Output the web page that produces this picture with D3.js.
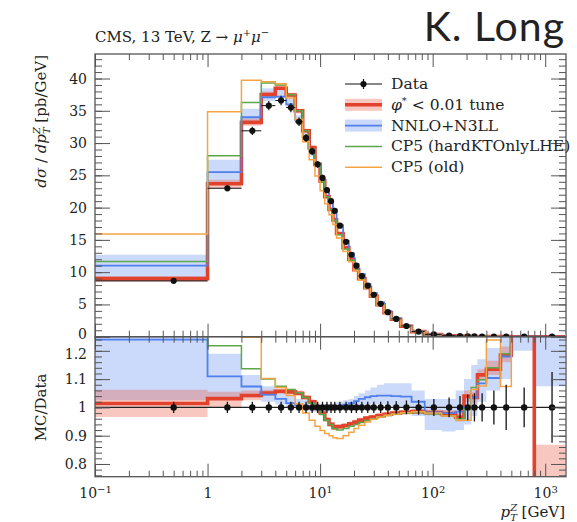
<!DOCTYPE html>
<html lang="en">
<head>
<meta charset="UTF-8">
<script src="https://d3js.org/d3.v7.min.js"></script>
<title>Z pT</title>
<style>
    body { margin: 0; background: #fff; }
    text { font-family: "DejaVu Serif", serif; fill: #222; }
</style>
</head>
<body>
<div id="chart"></div>
<script>
// pT bin edges [GeV]
var binEdges = [0, 1, 2, 3, 4, 5, 6, 7, 8, 9, 10, 11, 12, 13, 14, 16, 18, 20, 22, 25, 28, 32, 37, 43, 52, 65, 85,
    120, 160, 190, 220, 250, 300, 400, 500, 800, 1500];

// main panel, dsigma/dpT [pb/GeV]
var dataVals = [8.65, 23.0, 31.9, 35.8, 36.6, 35.5, 33.3, 30.8, 28.7, 26.7, 24.6, 22.7, 21.0, 19.5, 17.2, 14.7, 12.7, 11.0,
    9.4, 7.9, 6.5, 5.1, 3.8, 2.75, 1.66, 0.8, 0.35, 0.16, 0.09, 0.055, 0.036, 0.022, 0.011, 0.005, 0.0015, 0.0002];
var dataRelErr = [0.02, 0.02, 0.02, 0.02, 0.02, 0.02, 0.02, 0.02, 0.02, 0.02, 0.02, 0.02, 0.02, 0.02, 0.02, 0.02, 0.02, 0.02,
    0.02, 0.02, 0.02, 0.02, 0.022, 0.022, 0.024, 0.026, 0.03, 0.035, 0.04, 0.045, 0.05, 0.05, 0.06, 0.08, 0.07, 0.125];

var redMain = [9.0, 23.7, 33.2, 37.5, 38.5, 37.45, 35.0, 31.9, 29.3, 26.7, 24.1, 21.7, 19.7, 18.1, 16.0, 13.8, 12.0, 10.4,
    9.0, 7.6, 6.28, 4.95, 3.71, 2.7, 1.63, 0.79, 0.344, 0.156, 0.087, 0.057, 0.037, 0.0245, 0.0125, 0.0059, 0.0021, 0];
var redBandLo = [8.5, 23.0, 32.7, 37.2, 38.2, 37.1, 34.6, 31.6, 29.0, 26.45, 23.9, 21.5, 19.5, 17.9, 15.85, 13.65, 11.9, 10.3,
    8.9, 7.52, 6.22, 4.9, 3.67, 2.67, 1.61, 0.78, 0.34, 0.154, 0.086, 0.056, 0.036, 0.024, 0.012, 0.0057, 0.002, 0];
var redBandHi = [9.35, 24.3, 33.8, 38.0, 39.0, 37.8, 35.3, 32.2, 29.6, 26.95, 24.3, 21.9, 19.9, 18.3, 16.15, 13.95, 12.1, 10.5,
    9.1, 7.68, 6.34, 5.0, 3.75, 2.73, 1.65, 0.8, 0.348, 0.158, 0.088, 0.058, 0.038, 0.025, 0.013, 0.0061, 0.0022, 0.00017];

var blueMain = [11.0, 25.5, 34.0, 37.1, 37.2, 36.0, 33.6, 30.9, 28.7, 26.65, 24.5, 22.65, 21.0, 19.55, 17.3, 14.85, 12.9, 11.25,
    9.68, 8.18, 6.76, 5.31, 3.96, 2.86, 1.72, 0.816, 0.344, 0.157, 0.089, 0.055, 0.037, 0.0239, 0.0121, 0.0059, 0.0021, 0.0003];
var blueBandLo = [8.9, 23.8, 33.0, 36.5, 37.0, 35.5, 33.1, 30.5, 28.3, 26.3, 24.2, 22.35, 20.8, 19.3, 17.0, 14.6, 12.7, 11.0,
    9.45, 7.98, 6.57, 5.15, 3.84, 2.76, 1.66, 0.776, 0.326, 0.146, 0.083, 0.052, 0.035, 0.0224, 0.0117, 0.0055, 0.0018, 0.0002];
var blueBandHi = [12.7, 27.4, 35.3, 38.5, 38.4, 36.9, 34.3, 31.6, 29.3, 27.1, 24.85, 22.9, 21.2, 19.8, 17.55, 15.07, 13.08, 11.44,
    9.87, 8.37, 6.96, 5.5, 4.12, 2.98, 1.8, 0.848, 0.36, 0.165, 0.095, 0.06, 0.041, 0.0257, 0.0133, 0.0065, 0.0021, 0.0003];

var greenMain = [11.65, 28.05, 36.3, 39.3, 39.0, 37.5, 35.0, 31.9, 29.1, 26.7, 24.0, 21.7, 19.7, 18.0, 15.8, 13.6, 11.85, 10.35,
    8.9, 7.54, 6.24, 4.93, 3.69, 2.68, 1.625, 0.786, 0.342, 0.155, 0.0864, 0.0547, 0.0385, 0.0242, 0.0125, 0.006, 0.0021, 0.0003];
var orangeMain = [15.9, 34.85, 39.75, 39.5, 39.2, 37.0, 33.7, 30.2, 27.4, 24.9, 22.6, 20.6, 18.9, 17.4, 15.3, 13.2, 11.6, 10.2,
    8.8, 7.49, 6.23, 4.93, 3.69, 2.69, 1.63, 0.79, 0.343, 0.155, 0.086, 0.0525, 0.038, 0.0237, 0.0136, 0.0054, 0.0021, 0.0003];

// ratio panel, MC/Data
var redRatio = [1.014, 1.031, 1.042, 1.051, 1.057, 1.055, 1.05, 1.035, 1.02, 1.0, 0.98, 0.957, 0.94, 0.928, 0.932, 0.936, 0.942, 0.948,
    0.955, 0.962, 0.966, 0.971, 0.976, 0.98, 0.983, 0.985, 0.982, 0.978, 0.965, 1.04, 1.035, 1.115, 1.135, 1.185, 1.40, 0.0];
var redRatioLo = [0.966, 1.0, 1.025, 1.04, 1.047, 1.045, 1.04, 1.027, 1.012, 0.992, 0.972, 0.949, 0.932, 0.92, 0.924, 0.928, 0.934, 0.94,
    0.947, 0.954, 0.958, 0.963, 0.968, 0.972, 0.975, 0.977, 0.972, 0.966, 0.95, 1.02, 1.015, 1.095, 1.115, 1.16, 1.30, 0.50];
var redRatioHi = [1.062, 1.055, 1.06, 1.062, 1.067, 1.065, 1.06, 1.043, 1.028, 1.008, 0.988, 0.965, 0.948, 0.936, 0.94, 0.944, 0.95, 0.956,
    0.963, 0.97, 0.974, 0.979, 0.984, 0.988, 0.991, 0.993, 0.992, 0.99, 0.98, 1.06, 1.055, 1.135, 1.165, 1.215, 1.50, 0.868];

var blueRatio = [1.24, 1.11, 1.074, 1.045, 1.03, 1.015, 1.008, 1.003, 1.0, 0.998, 0.997, 0.998, 1.0, 1.002, 1.005, 1.01, 1.015, 1.022,
    1.03, 1.036, 1.04, 1.042, 1.042, 1.04, 1.038, 1.02, 0.982, 0.98, 0.985, 1.0, 1.035, 1.085, 1.104, 1.18, 1.40, 1.40];
var blueRatioLo = [1.025, 1.035, 1.035, 1.02, 1.01, 1.0, 0.995, 0.99, 0.985, 0.985, 0.985, 0.985, 0.99, 0.99, 0.99, 0.995, 1.0, 1.0,
    1.005, 1.01, 1.01, 1.01, 1.01, 1.005, 1.0, 0.97, 0.92, 0.915, 0.92, 0.94, 0.97, 1.02, 1.06, 1.10, 1.20, 1.075];
var blueRatioHi = [1.47, 1.19, 1.115, 1.075, 1.05, 1.04, 1.03, 1.025, 1.02, 1.015, 1.01, 1.01, 1.01, 1.015, 1.02, 1.025, 1.03, 1.04,
    1.05, 1.06, 1.07, 1.08, 1.085, 1.085, 1.085, 1.06, 1.03, 1.03, 1.06, 1.10, 1.15, 1.17, 1.21, 1.30, 1.40, 1.40];

var greenRatio = [1.40, 1.218, 1.137, 1.10, 1.075, 1.063, 1.052, 1.035, 1.015, 1.0, 0.975, 0.955, 0.94, 0.925, 0.92, 0.925, 0.933, 0.94,
    0.947, 0.954, 0.96, 0.966, 0.971, 0.976, 0.979, 0.982, 0.978, 0.97, 0.96, 0.995, 1.07, 1.098, 1.14, 1.19, 1.40, 1.40];
var orangeRatio = [1.60, 1.50, 1.248, 1.102, 1.07, 1.042, 1.012, 0.98, 0.955, 0.933, 0.918, 0.908, 0.9, 0.893, 0.89, 0.9, 0.912, 0.925,
    0.937, 0.948, 0.958, 0.966, 0.972, 0.977, 0.981, 0.985, 0.98, 0.97, 0.955, 0.955, 1.063, 1.076, 1.238, 1.074, 1.40, 1.40];

// axis ticks
var mainTicks = [0, 5, 10, 15, 20, 25, 30, 35, 40];
var ratioTicks = [0.8, 0.9, 1, 1.1, 1.2];
var xMajor = [0.1, 1, 10, 100, 1000];

var legendLabels = ["Data", "< 0.01 tune", "NNLO+N3LL", "CP5 (hardKTOnlyLHE)", "CP5 (old)"];

var RED = "#e2412c", BLUE = "#4f80ee", GREEN = "#5ca74b", ORANGE = "#f6a443", FRAME = "#555";

var svg = d3.select("#chart").append("svg")
    .attr("width", 577)
    .attr("height", 522);

var x = d3.scaleLog().domain([0.1, 1530]).range([95, 566]);
var yMain = d3.scaleLinear().domain([0, 43.8]).range([336.7, 54]);
var yRatio = d3.scaleLinear().domain([0.755, 1.25]).range([476.7, 336.7]);
var xMin = x.domain()[0];

var xMinor = [];
xMajor.forEach(function(dec){
    for (var k = 2; k <= 9; k++) {
        if (dec * k < x.domain()[1]) xMinor.push(dec * k);
    }
});

var defs = svg.append("defs");
defs.append("clipPath").attr("id", "clipMain").append("rect")
    .attr("x", x.range()[0]).attr("y", yMain.range()[1])
    .attr("width", x.range()[1] - x.range()[0]).attr("height", yMain.range()[0] - yMain.range()[1]);
defs.append("clipPath").attr("id", "clipRatio").append("rect")
    .attr("x", x.range()[0]).attr("y", yRatio.range()[1])
    .attr("width", x.range()[1] - x.range()[0]).attr("height", yRatio.range()[0] - yRatio.range()[1]);

function stepPts(vals){
    var pts = vals.map(function(v, i){ return {x: Math.max(binEdges[i], xMin), v: v}; });
    pts.push({x: binEdges[binEdges.length - 1], v: vals[vals.length - 1]});
    return pts;
}
function bandPts(lo, hi){
    var pts = lo.map(function(v, i){ return {x: Math.max(binEdges[i], xMin), lo: v, hi: hi[i]}; });
    pts.push({x: binEdges[binEdges.length - 1], lo: lo[lo.length - 1], hi: hi[hi.length - 1]});
    return pts;
}
function drawBand(g, y, lo, hi, fill){
    var area = d3.area().curve(d3.curveStepAfter)
        .x(function(d){ return x(d.x); })
        .y0(function(d){ return y(d.lo); })
        .y1(function(d){ return y(d.hi); });
    g.append("path").attr("d", area(bandPts(lo, hi))).attr("fill", fill).attr("stroke", "none");
}
function drawStep(g, y, vals, color, width){
    var line = d3.line().curve(d3.curveStepAfter)
        .x(function(d){ return x(d.x); })
        .y(function(d){ return y(d.v); });
    g.append("path").attr("d", line(stepPts(vals))).attr("fill", "none")
        .attr("stroke", color).attr("stroke-width", width).attr("stroke-linejoin", "miter");
}
function center(i){ return (binEdges[i] + binEdges[i + 1]) / 2; }

// ---- main panel
var gMain = svg.append("g").attr("clip-path", "url(#clipMain)");
drawBand(gMain, yMain, blueBandLo, blueBandHi, "rgba(110,150,240,0.36)");
drawBand(gMain, yMain, redBandLo, redBandHi, "rgba(232,95,75,0.35)");
drawStep(gMain, yMain, redMain, RED, 3.6);
drawStep(gMain, yMain, blueMain, BLUE, 1.8);
drawStep(gMain, yMain, greenMain, GREEN, 1.5);
drawStep(gMain, yMain, orangeMain, ORANGE, 1.5);

var dataG = gMain.selectAll(".pt").data(dataVals).enter().append("g").attr("class", "pt");
dataG.append("line")
    .attr("x1", function(d, i){ return x(Math.max(binEdges[i], xMin)); })
    .attr("x2", function(d, i){ return x(binEdges[i + 1]); })
    .attr("y1", function(d){ return yMain(d); })
    .attr("y2", function(d){ return yMain(d); })
    .attr("stroke", "#111").attr("stroke-width", 1);
dataG.append("line")
    .attr("x1", function(d, i){ return x(center(i)); })
    .attr("x2", function(d, i){ return x(center(i)); })
    .attr("y1", function(d, i){ return yMain(d * (1 + dataRelErr[i])); })
    .attr("y2", function(d, i){ return yMain(d * (1 - dataRelErr[i])); })
    .attr("stroke", "#111").attr("stroke-width", 1.2);
dataG.append("circle")
    .attr("cx", function(d, i){ return x(center(i)); })
    .attr("cy", function(d){ return yMain(d); })
    .attr("r", 3.1).attr("fill", "#111");

// ---- ratio panel
var gRatio = svg.append("g").attr("clip-path", "url(#clipRatio)");
drawBand(gRatio, yRatio, blueRatioLo, blueRatioHi, "rgba(110,150,240,0.36)");
drawBand(gRatio, yRatio, redRatioLo, redRatioHi, "rgba(232,95,75,0.35)");
gRatio.append("line")
    .attr("x1", x.range()[0]).attr("x2", x.range()[1])
    .attr("y1", yRatio(1)).attr("y2", yRatio(1))
    .attr("stroke", "#222").attr("stroke-width", 1.2);
drawStep(gRatio, yRatio, redRatio, RED, 3.6);
drawStep(gRatio, yRatio, blueRatio, BLUE, 1.8);
drawStep(gRatio, yRatio, greenRatio, GREEN, 1.5);
drawStep(gRatio, yRatio, orangeRatio, ORANGE, 1.5);

var rPts = gRatio.selectAll(".rpt").data(dataRelErr).enter().append("g").attr("class", "rpt");
rPts.append("line")
    .attr("x1", function(d, i){ return x(center(i)); })
    .attr("x2", function(d, i){ return x(center(i)); })
    .attr("y1", function(d){ return yRatio(1 + d); })
    .attr("y2", function(d){ return yRatio(1 - d); })
    .attr("stroke", "#111").attr("stroke-width", 1.3);
rPts.append("circle")
    .attr("cx", function(d, i){ return x(center(i)); })
    .attr("cy", yRatio(1))
    .attr("r", 3.2).attr("fill", "#111");

// ---- axes and frames
function styleAxis(g){
    g.select(".domain").remove();
    g.selectAll(".tick line").attr("stroke", FRAME).attr("stroke-width", 1);
    g.selectAll(".tick text").style("font-size", "14px").style("font-family", "DejaVu Serif, serif").attr("fill", "#333");
}
function xTicks(yPos, dir, labels){
    var axisF = dir === "top" ? d3.axisTop : d3.axisBottom;
    svg.append("g").attr("transform", "translate(0," + yPos + ")")
        .call(axisF(x).tickValues(xMinor).tickSize(-6).tickFormat(""))
        .call(styleAxis);
    var g = svg.append("g").attr("transform", "translate(0," + yPos + ")")
        .call(axisF(x).tickValues(xMajor).tickSize(-13).tickPadding(11).tickFormat(labels ? function(){ return ""; } : ""))
        .call(styleAxis);
    if (labels) {
        g.selectAll(".tick text").each(function(d){
            var t = d3.select(this);
            var e = Math.round(Math.log10(d));
            if (e === 0) { t.text("1"); return; }
            t.append("tspan").text("10");
            t.append("tspan").attr("dy", "-0.45em").style("font-size", "10px")
                .text(e < 0 ? "\u2212" + (-e) : String(e));
        });
    }
}
xTicks(54, "top", false);
xTicks(336.7, "bottom", false);
xTicks(336.7, "top", false);
xTicks(476.7, "bottom", true);

function yTicks(scale, major, minor, fmt){
    svg.append("g").attr("transform", "translate(" + x.range()[0] + ",0)")
        .call(d3.axisLeft(scale).tickValues(minor).tickSize(-7).tickFormat(""))
        .call(styleAxis);
    var g = svg.append("g").attr("transform", "translate(" + x.range()[0] + ",0)")
        .call(d3.axisLeft(scale).tickValues(major).tickSize(-15).tickPadding(8).tickFormat(fmt))
        .call(styleAxis);
    svg.append("g").attr("transform", "translate(" + x.range()[1] + ",0)")
        .call(d3.axisRight(scale).tickValues(minor).tickSize(-7).tickFormat(""))
        .call(styleAxis);
    svg.append("g").attr("transform", "translate(" + x.range()[1] + ",0)")
        .call(d3.axisRight(scale).tickValues(major).tickSize(-15).tickFormat(""))
        .call(styleAxis);
    return g;
}
var mainAxis = yTicks(yMain, mainTicks, d3.range(0, 44), function(d){ return String(d); });
var ratioAxis = yTicks(yRatio, ratioTicks, d3.range(38, 63).map(function(k){ return k * 0.02; }),
    function(d){ return String(+d.toFixed(1)); });
// the "0" and "1.2" labels sit close together at the panel junction
mainAxis.selectAll(".tick text").filter(function(d){ return d === 0; }).attr("dy", "0.12em");
ratioAxis.selectAll(".tick text").filter(function(d){ return d === 1.2; }).attr("dy", "0.55em");

[yMain, yRatio].forEach(function(s){
    svg.append("rect")
        .attr("x", x.range()[0]).attr("y", s.range()[1])
        .attr("width", x.range()[1] - x.range()[0]).attr("height", s.range()[0] - s.range()[1])
        .attr("fill", "none").attr("stroke", FRAME).attr("stroke-width", 1.3);
});

// ---- titles
var title = svg.append("text").attr("x", 95).attr("y", 42).style("font-size", "15px");
title.append("tspan").text("CMS, 13 TeV, Z \u2192 ");
title.append("tspan").style("font-style", "italic").text("\u03bc");
title.append("tspan").attr("dy", -6).style("font-size", "10px").text("+");
title.append("tspan").attr("dy", 6).style("font-style", "italic").text("\u03bc");
title.append("tspan").attr("dy", -6).style("font-size", "10px").text("\u2212");

svg.append("text").attr("x", 565).attr("y", 41).attr("text-anchor", "end")
    .style("font-family", "Lato, 'Open Sans', sans-serif").style("font-size", "41px")
    .style("letter-spacing", "1px").attr("fill", "#000")
    .text("K. Long");

var yt = svg.append("text").attr("transform", "translate(46,55) rotate(-90)")
    .attr("text-anchor", "end").style("font-size", "15px");
yt.append("tspan").style("font-style", "italic").text("d\u03c3");
yt.append("tspan").text(" / ");
yt.append("tspan").style("font-style", "italic").text("dp");
yt.append("tspan").attr("dy", -6).style("font-size", "10px").style("font-style", "italic").text("Z");
yt.append("tspan").attr("dx", -7).attr("dy", 10).style("font-size", "10px").style("font-style", "italic").text("T");
yt.append("tspan").attr("dy", -4).text(" [pb/GeV]");

svg.append("text").attr("transform", "translate(46," + yRatio(1) + ") rotate(-90)")
    .attr("text-anchor", "middle").style("font-size", "15px").text("MC/Data");

var xt = svg.append("text").attr("x", 565).attr("y", 517).attr("text-anchor", "end").style("font-size", "15px");
xt.append("tspan").style("font-style", "italic").text("p");
xt.append("tspan").attr("dy", -6).style("font-size", "10px").style("font-style", "italic").text("Z");
xt.append("tspan").attr("dx", -7).attr("dy", 10).style("font-size", "10px").style("font-style", "italic").text("T");
xt.append("tspan").attr("dy", -4).text(" [GeV]");

// ---- legend
var lg = svg.append("g").attr("transform", "translate(345,84)");
var rowH = 20.8;
legendLabels.forEach(function(lab, i){
    var row = lg.append("g").attr("transform", "translate(0," + (i * rowH) + ")");
    if (i === 0) {
        row.append("line").attr("x1", 0).attr("x2", 37).attr("stroke", "#111").attr("stroke-width", 1.2);
        row.append("line").attr("x1", 18.5).attr("x2", 18.5).attr("y1", -5).attr("y2", 5).attr("stroke", "#111").attr("stroke-width", 1.2);
        row.append("circle").attr("cx", 18.5).attr("r", 3.1).attr("fill", "#111");
    } else if (i === 1 || i === 2) {
        row.append("rect").attr("x", 0).attr("y", -6).attr("width", 37).attr("height", 12)
            .attr("fill", i === 1 ? "rgba(232,95,75,0.35)" : "rgba(110,150,240,0.36)");
        row.append("line").attr("x1", 0).attr("x2", 37)
            .attr("stroke", i === 1 ? RED : BLUE).attr("stroke-width", i === 1 ? 3.6 : 1.8);
    } else {
        row.append("line").attr("x1", 0).attr("x2", 37)
            .attr("stroke", i === 3 ? GREEN : ORANGE).attr("stroke-width", 1.5);
    }
    var t = row.append("text").attr("x", 46).attr("y", 5).style("font-size", "15.5px");
    if (i === 1) {
        t.append("tspan").style("font-style", "italic").text("\u03c6");
        t.append("tspan").attr("dy", -6).style("font-size", "10px").text("*");
        t.append("tspan").attr("dy", 6).text(" " + lab);
    } else {
        t.text(lab);
    }
});
</script>
</body>
</html>
